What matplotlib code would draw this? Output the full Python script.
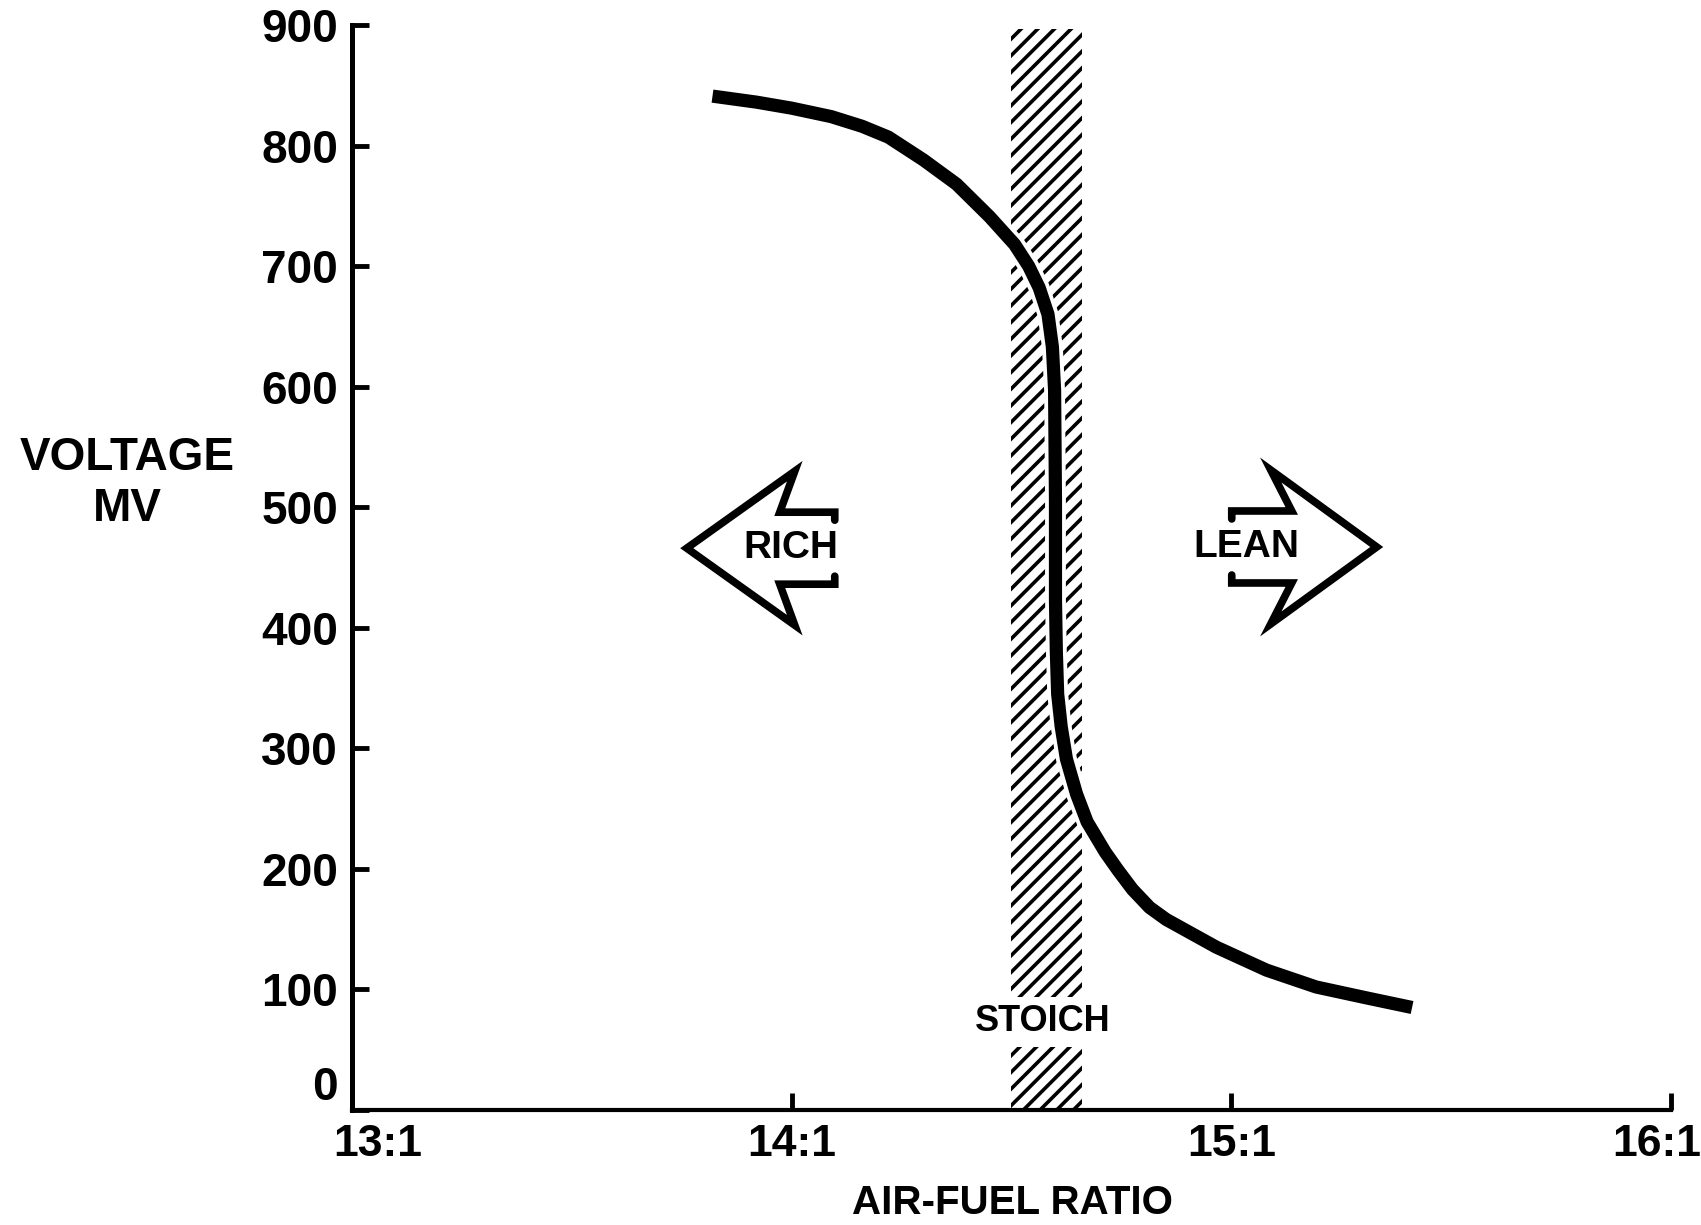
import matplotlib
matplotlib.use("Agg")
import matplotlib.pyplot as plt
import matplotlib.patheffects as pe
import matplotlib.transforms as mtransforms

# Oxygen sensor output vs air-fuel ratio
afr = [13.82, 13.92, 14.00, 14.09, 14.16, 14.22, 14.30, 14.375, 14.45, 14.507,
       14.539, 14.563, 14.583, 14.593, 14.598, 14.600, 14.600, 14.602, 14.605,
       14.613, 14.625, 14.648, 14.672, 14.713, 14.742, 14.775, 14.814, 14.852,
       14.966, 15.08, 15.193, 15.307, 15.411]
voltage = [841, 836, 831, 824, 816, 807, 788, 768, 741, 718,
           700, 682, 660, 633, 597, 506, 423, 380, 345,
           318, 291, 262, 239, 214, 199, 183, 168, 158,
           135, 116, 102, 93, 85]

x_ticks = [13, 14, 15, 16]
x_tick_labels = ["13:1", "14:1", "15:1", "16:1"]
y_ticks = [0, 100, 200, 300, 400, 500, 600, 700, 800, 900]
y_tick_labels = ["0", "100", "200", "300", "400", "500", "600", "700", "800", "900"]

stoich_band = (14.50, 14.66)
stoich_top = 897

font = ["Liberation Sans", "DejaVu Sans"]

plt.rcParams["hatch.linewidth"] = 2.6
plt.rcParams["hatch.color"] = "black"

fig = plt.figure(figsize=(17.01, 12.25), dpi=100)
ax = fig.add_axes([0.2069, 0.0939, 0.9824 - 0.2069, 0.9796 - 0.0939])
ax.set_xlim(13, 16)
ax.set_ylim(0, 900)

for s in ["top", "right"]:
    ax.spines[s].set_visible(False)
ax.spines["left"].set_linewidth(3.6)
ax.spines["bottom"].set_linewidth(3.0)

ax.set_xticks(x_ticks)
ax.set_xticklabels(x_tick_labels, fontfamily=font, fontweight="bold", fontsize=32)
ax.set_yticks(y_ticks)
ax.set_yticklabels(y_tick_labels, fontfamily=font, fontweight="bold", fontsize=33)
ax.tick_params(axis="both", direction="in", length=12, width=3.5)
ax.tick_params(axis="x", pad=10)
ax.tick_params(axis="y", pad=10)
ax.get_yticklabels()[0].set_va("bottom")

# nudge the end labels like the original drawing
xl = ax.get_xticklabels()
xl[0].set_transform(xl[0].get_transform() + mtransforms.ScaledTranslation(26 / 100, 0, fig.dpi_scale_trans))
xl[-1].set_transform(xl[-1].get_transform() + mtransforms.ScaledTranslation(-14 / 100, 0, fig.dpi_scale_trans))

# stoichiometric band
ax.fill_between(stoich_band, 0, stoich_top, facecolor="none", edgecolor="black",
                hatch="//", linewidth=0)
ax.text(14.57, 73, "STOICH", ha="center", va="center", fontfamily=font,
        fontweight="bold", fontsize=26,
        bbox=dict(boxstyle="square,pad=0.2", fc="white", ec="none"))

# sensor curve
ax.plot(afr, voltage, color="black", linewidth=9.5, solid_capstyle="butt",
        solid_joinstyle="round",
        path_effects=[pe.Stroke(linewidth=15, foreground="white"), pe.Normal()])

# hollow arrows around RICH / LEAN
px_x = (16 - 13) / ax.bbox.width
px_y = 900 / ax.bbox.height


def hollow_arrow(cx, cy, sign, tip, corner, notch, tail, head_h=77, shaft_h=36):
    fwd = [tail, tail, notch, corner, tip, corner, notch, tail, tail]
    up = [shaft_h - 8, shaft_h, shaft_h, head_h, 0, -head_h, -shaft_h, -shaft_h, -shaft_h + 8]
    xs = [cx + sign * f * px_x for f in fwd]
    ys = [cy + u * px_y for u in up]
    ax.plot(xs, ys, color="black", linewidth=5.5, solid_joinstyle="miter",
            solid_capstyle="round")


ax.text(13.998, 466, "RICH", ha="center", va="center", fontfamily=font,
        fontweight="bold", fontsize=28)
hollow_arrow(13.998, 466, -1, tip=104, corner=-4, notch=11, tail=-44)
ax.text(15.035, 467, "LEAN", ha="center", va="center", fontfamily=font,
        fontweight="bold", fontsize=28)
hollow_arrow(15.035, 467, 1, tip=130, corner=24, notch=45, tail=-15)

fig.text(0.0747, 0.605, "VOLTAGE\nMV", ha="center", va="center", fontfamily=font,
         fontweight="bold", fontsize=33, linespacing=1.2)
fig.text(0.5955, 0.018, "AIR-FUEL RATIO", ha="center", va="center", fontfamily=font,
         fontweight="bold", fontsize=29)

fig.savefig("out.png", dpi=100, facecolor="white")
